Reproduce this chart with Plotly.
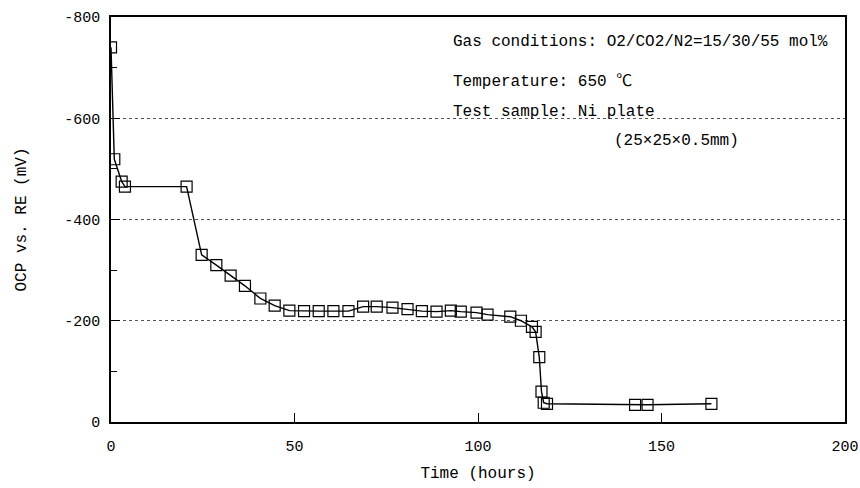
import plotly.graph_objects as go

time_h = [0, 0.9, 2.9, 3.8, 20.6, 24.7, 28.7, 32.6, 36.5, 40.7, 44.6, 48.6, 52.6,
          56.6, 60.6, 64.7, 68.7, 72.4, 76.7, 80.8, 84.7, 88.7, 92.6, 95.3, 99.6,
          102.6, 108.8, 111.7, 114.7, 115.7, 116.7, 117.3, 117.9, 118.8, 142.8,
          146.2, 163.6]
ocp_mv = [-740, -519, -475, -465, -465, -330, -310, -289, -269, -244, -230, -220,
          -219, -219, -219, -219, -228, -228, -226, -223, -219, -218, -220, -218,
          -216, -212, -208, -200, -188, -178, -128, -60, -38, -36, -34, -34, -36]

x_ticks = [0, 50, 100, 150, 200]
y_ticks = [0, -200, -400, -600, -800]

notes = [
    "Gas conditions: O2/CO2/N2=15/30/55 mol%",
    "Temperature: 650 ℃",
    "Test sample: Ni plate",
    "(25×25×0.5mm)",
]

FONT = "Liberation Mono, Noto Sans CJK JP, monospace"

fig = go.Figure()
fig.add_trace(go.Scatter(
    x=time_h, y=ocp_mv, mode="lines+markers",
    line=dict(color="black", width=1.4),
    marker=dict(symbol="square-open", size=11, color="black", line=dict(width=1.2)),
    showlegend=False,
))

note_pos = [(0.4633, 0.938), (0.4633, 0.840), (0.4633, 0.765), (0.683, 0.694)]
for txt, (px, py) in zip(notes, note_pos):
    fig.add_annotation(text=txt, x=px, y=py, xref="paper", yref="paper",
                       xanchor="left", yanchor="middle", showarrow=False,
                       font=dict(family=FONT, size=16, color="black"))

fig.update_layout(
    width=860, height=488,
    margin=dict(l=111, r=15, t=17, b=66),
    paper_bgcolor="white", plot_bgcolor="white",
    font=dict(family=FONT, size=15, color="black"),
)
fig.update_xaxes(
    range=[0, 200], tickvals=x_ticks, ticktext=[str(v) for v in x_ticks],
    ticks="inside", ticklen=9, tickcolor="black", tickwidth=1,
    ticklabeloverflow="allow", ticklabelstandoff=9, automargin=False,
    showline=True, linecolor="black", linewidth=1.5, mirror=True,
    showgrid=False, zeroline=False,
    title=dict(text="Time (hours)", standoff=12, font=dict(size=16)),
)
fig.update_yaxes(
    range=[0, -800], tickvals=y_ticks, ticktext=[str(v) for v in y_ticks],
    ticks="inside", ticklen=9, tickcolor="black", tickwidth=1,
    ticklabelstandoff=6, automargin=False,
    minor=dict(dtick=100, ticks="inside", ticklen=6, tickcolor="black", showgrid=False),
    showline=True, linecolor="black", linewidth=1.5, mirror=True,
    showgrid=True, gridcolor="#555555", griddash="dot", gridwidth=1,
    zeroline=False,
    title=dict(text="OCP vs. RE (mV)", standoff=34, font=dict(size=16)),
)

fig.write_html("out.html")
